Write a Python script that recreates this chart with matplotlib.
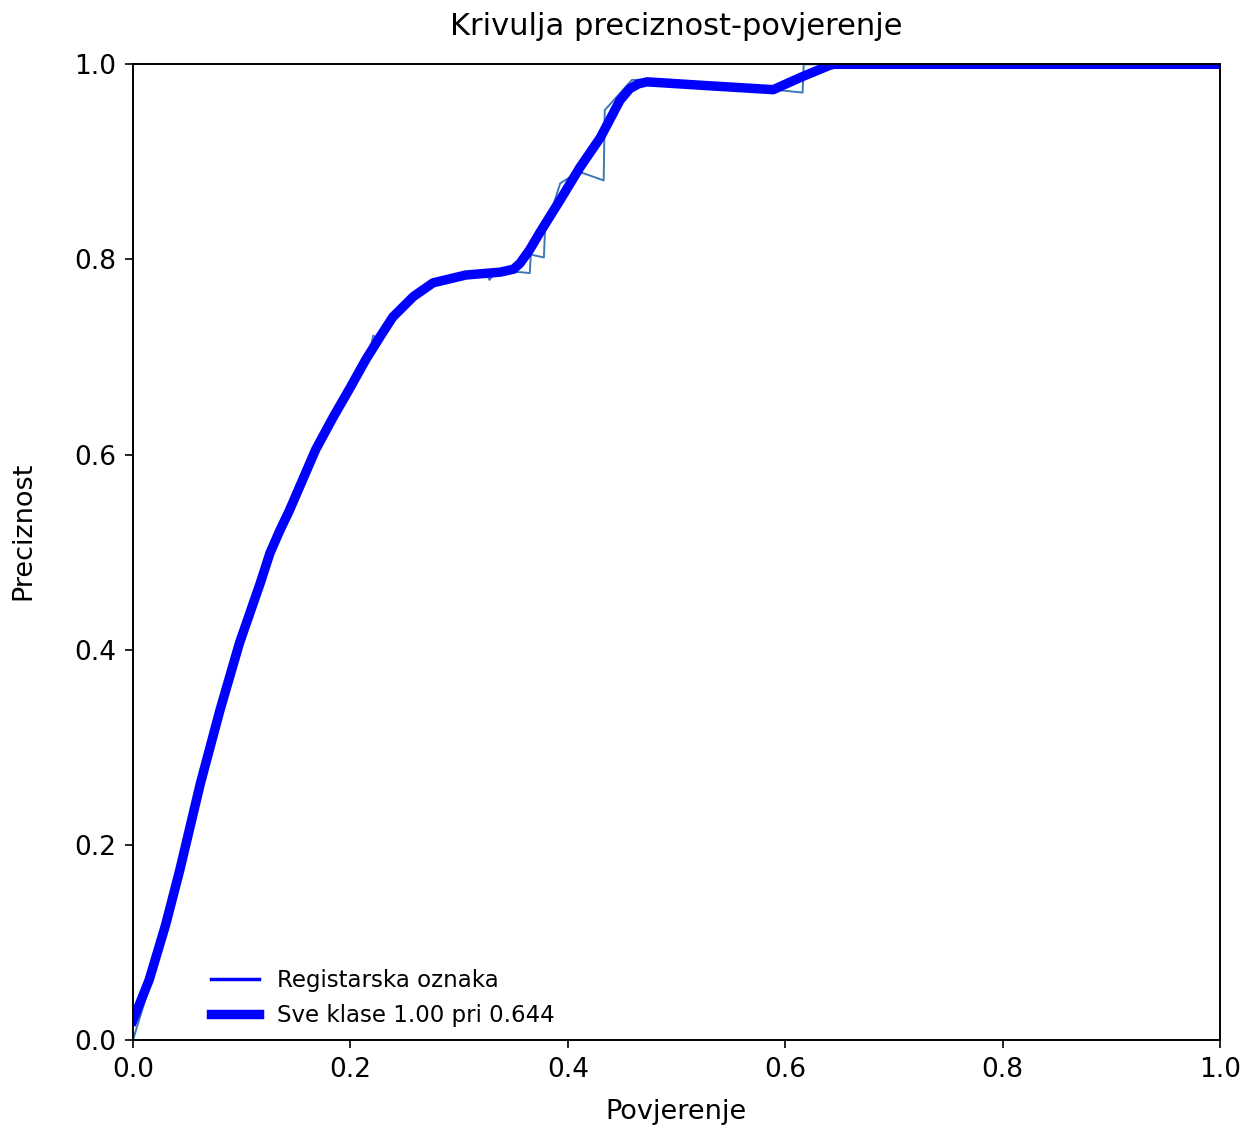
import numpy as np
import matplotlib
matplotlib.use("Agg")
import matplotlib.pyplot as plt

# per-class precision vs confidence (raw)
conf_cls = [0.0, 0.015, 0.03, 0.043, 0.062, 0.08, 0.098, 0.117, 0.126, 0.144, 0.168,
            0.184, 0.186, 0.19, 0.214, 0.218, 0.221, 0.226, 0.239, 0.258, 0.276, 0.306,
            0.325, 0.328, 0.332, 0.338, 0.35, 0.356, 0.365, 0.366, 0.378, 0.379, 0.393,
            0.41, 0.433, 0.434, 0.459, 0.48, 0.53, 0.59, 0.616, 0.617, 0.65, 1.0]
prec_cls = [0.0, 0.055, 0.113, 0.172, 0.262, 0.338, 0.407, 0.468, 0.499, 0.543, 0.605,
            0.638, 0.645, 0.646, 0.697, 0.705, 0.722, 0.718, 0.741, 0.762, 0.777, 0.785,
            0.785, 0.779, 0.785, 0.787, 0.787, 0.787, 0.786, 0.805, 0.802, 0.829, 0.878,
            0.89, 0.881, 0.953, 0.984, 0.984, 0.979, 0.974, 0.971, 1.0, 1.0, 1.0]

# all classes, smoothed
conf_all = [0.0, 0.015, 0.03, 0.043, 0.062, 0.08, 0.098, 0.117, 0.126, 0.135, 0.144,
            0.156, 0.168, 0.184, 0.2, 0.214, 0.228, 0.239, 0.258, 0.276, 0.306, 0.338,
            0.35, 0.356, 0.365, 0.374, 0.393, 0.411, 0.43, 0.448, 0.457, 0.465, 0.473,
            0.53, 0.589, 0.615, 0.641, 0.645, 1.0]
prec_all = [0.02, 0.062, 0.118, 0.174, 0.263, 0.338, 0.407, 0.468, 0.499, 0.522, 0.543,
            0.574, 0.605, 0.638, 0.669, 0.697, 0.722, 0.741, 0.762, 0.776, 0.784, 0.787,
            0.79, 0.796, 0.81, 0.827, 0.861, 0.894, 0.925, 0.963, 0.975, 0.98, 0.982,
            0.978, 0.974, 0.987, 0.999, 1.0, 1.0]

cls_name = "Registarska oznaka"
best_prec = 1.00
best_conf = 0.644

fig = plt.figure(figsize=(12.5, 11.28), dpi=100)
ax = fig.add_axes([0.1064, 0.078, 0.8696, 0.865])

ax.plot(conf_cls, prec_cls, color="#3c78b4", linewidth=1.4, label=cls_name)
ax.plot(conf_all, prec_all, color="blue", linewidth=6.8,
        label="Sve klase {:.2f} pri {:.3f}".format(best_prec, best_conf))

ax.set_xlim(0, 1)
ax.set_ylim(0, 1)
ax.set_xticks(np.arange(0, 1.01, 0.2))
ax.set_yticks(np.arange(0, 1.01, 0.2))
ax.tick_params(labelsize=19, length=6, width=1.2, pad=6)
for sp in ax.spines.values():
    sp.set_linewidth(1.4)
ax.set_xlabel("Povjerenje", fontsize=19.5, labelpad=12)
ax.set_ylabel("Preciznost", fontsize=19.5)
ax.yaxis.set_label_coords(-0.089, 0.522)
ax.set_title("Krivulja preciznost-povjerenje", fontsize=22, pad=21)

leg = ax.legend(loc="lower left", bbox_to_anchor=(0.0526, -0.008), frameon=False,
                fontsize=16.5, handlelength=2.1, labelspacing=0.55)
leg.legend_handles[0].set_color("blue")
leg.legend_handles[0].set_linewidth(2.5)

fig.savefig("out.png", dpi=100)
